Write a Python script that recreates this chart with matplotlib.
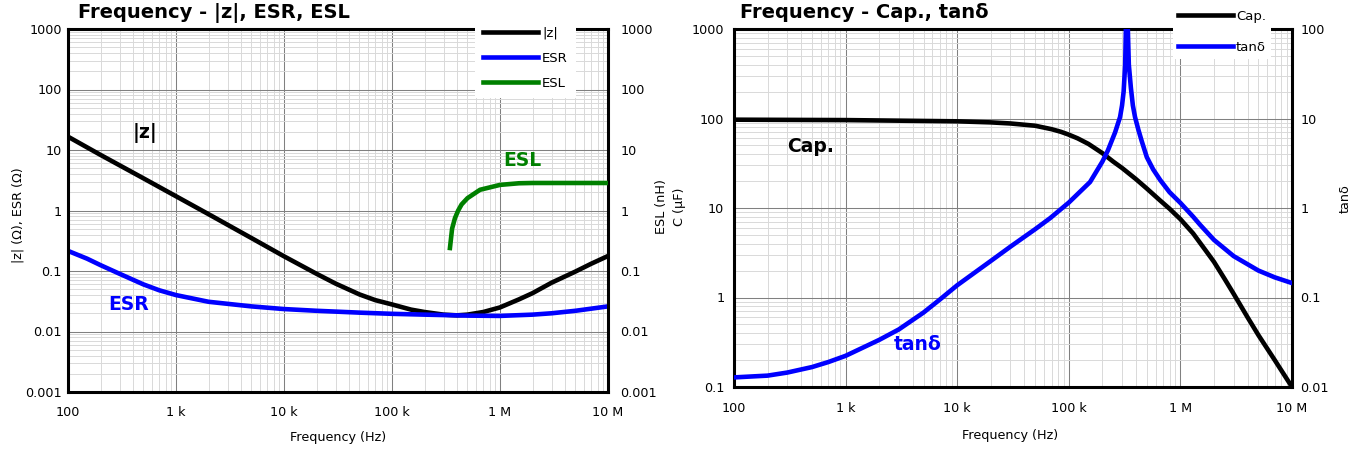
import numpy as np
import matplotlib.pyplot as plt
from matplotlib.ticker import LogLocator, NullFormatter

# canvas size in pixels, used to place the axes and the free texts
W, H = 1359, 453

# ---- left chart data: |z|, ESR, ESL vs frequency
freq_z = [100, 200, 500, 1e3, 2e3, 5e3, 1e4, 2e4, 3e4, 5e4, 7e4, 1e5, 1.5e5, 2e5,
          3e5, 4e5, 5e5, 7e5, 1e6, 1.5e6, 2e6, 3e6, 5e6, 7e6, 1e7]
z_vals = [16.6, 8.3, 3.4, 1.72, 0.87, 0.35, 0.175, 0.09, 0.062, 0.041, 0.033,
          0.028, 0.023, 0.021, 0.019, 0.0185, 0.019, 0.021, 0.025, 0.034, 0.043,
          0.064, 0.098, 0.132, 0.177]

freq_esr = [100, 150, 200, 300, 500, 700, 1e3, 2e3, 5e3, 1e4, 2e4, 5e4, 1e5,
            2e5, 5e5, 1e6, 2e6, 3e6, 5e6, 1e7]
esr_vals = [0.215, 0.16, 0.125, 0.09, 0.06, 0.048, 0.040, 0.031, 0.026, 0.0235,
            0.022, 0.0205, 0.0196, 0.019, 0.0183, 0.0181, 0.019, 0.020, 0.022, 0.026]

freq_esl = [3.44e5, 3.6e5, 3.83e5, 4.1e5, 4.41e5, 5e5, 6.53e5, 1e6, 1.5e6, 2e6,
            5e6, 1e7]
esl_vals = [0.24, 0.5, 0.75, 1.0, 1.26, 1.6, 2.2, 2.65, 2.82, 2.85, 2.85, 2.85]

# ---- right chart data: capacitance and tan delta vs frequency
freq_cap = [100, 1e3, 1e4, 2e4, 3e4, 5e4, 7e4, 8.5e4, 1e5, 1.2e5, 1.5e5, 2e5,
            2.5e5, 3e5, 4e5, 5e5, 6.5e5, 8e5, 1e6, 1.3e6, 1.7e6, 2e6, 2.5e6, 3e6,
            4e6, 5e6, 7e6, 1e7]
cap_vals = [97, 96, 93, 90.5, 88, 83, 76, 71, 66, 60, 52, 41, 33, 28, 21, 16.5,
            12.3, 9.8, 7.5, 5.2, 3.3, 2.5, 1.6, 1.1, 0.6, 0.38, 0.2, 0.1]

freq_tan = [100, 200, 300, 500, 700, 1e3, 2e3, 3e3, 5e3, 7e3, 1e4, 2e4, 3e4, 5e4,
            6.8e4, 1e5, 1.55e5, 2e5, 2.24e5, 2.6e5, 2.88e5, 3e5, 3.1e5, 3.2e5,
            3.3e5, 3.45e5, 3.6e5, 3.75e5, 3.92e5, 4.2e5, 4.5e5, 5e5, 5.7e5, 6.6e5,
            8e5, 1e6, 1.3e6, 1.5e6, 2e6, 3e6, 5e6, 7e6, 1e7]
tan_vals = [0.0128, 0.0134, 0.0145, 0.0167, 0.019, 0.0223, 0.0336, 0.044, 0.068,
            0.095, 0.137, 0.256, 0.37, 0.58, 0.77, 1.15, 1.95, 3.3, 4.4, 7.0, 10.4,
            14, 20, 40, 300, 40, 22, 14, 10.4, 7.5, 5.6, 3.7, 2.7, 2.05, 1.5, 1.14,
            0.8, 0.65, 0.44, 0.29, 0.2, 0.168, 0.145]

x_ticks = [1e2, 1e3, 1e4, 1e5, 1e6, 1e7]
x_labels = ['100', '1 k', '10 k', '100 k', '1 M', '10 M']
z_ticks = [1e-3, 1e-2, 1e-1, 1, 10, 100, 1000]
z_labels = ['0.001', '0.01', '0.1', '1', '10', '100', '1000']
cap_ticks = [0.1, 1, 10, 100, 1000]
cap_labels = ['0.1', '1', '10', '100', '1000']
tan_ticks = [0.01, 0.1, 1, 10, 100]
tan_labels = ['0.01', '0.1', '1', '10', '100']

BLUE = '#0000ff'
GREEN = '#008000'
LW = 3.3
TICK_FS = 9.2


def fx(px):
    return px / W


def fy(py):
    return 1 - py / H


def box(x0, y0, x1, y1):
    return [fx(x0), fy(y1), (x1 - x0) / W, (y1 - y0) / H]


def style_axes(ax, yticks, ylabels, ylim, xpad, ypad):
    ax.set_xscale('log')
    ax.set_yscale('log')
    ax.set_xlim(1e2, 1e7)
    ax.set_ylim(*ylim)
    ax.xaxis.set_minor_locator(LogLocator(base=10, subs=np.arange(2, 10), numticks=20))
    ax.yaxis.set_minor_locator(LogLocator(base=10, subs=np.arange(2, 10), numticks=20))
    ax.xaxis.set_minor_formatter(NullFormatter())
    ax.yaxis.set_minor_formatter(NullFormatter())
    ax.set_xticks(x_ticks, x_labels)
    ax.set_yticks(yticks, ylabels)
    ax.grid(which='minor', color='#d9d9d9', lw=0.7)
    ax.grid(which='major', color='#808080', lw=0.75)
    ax.set_axisbelow(True)
    for s in ax.spines.values():
        s.set_linewidth(2.2)
    ax.tick_params(which='both', length=0, labelsize=TICK_FS)
    ax.tick_params(axis='x', pad=xpad)
    ax.tick_params(axis='y', pad=ypad)


def style_twin(tw, yticks, ylabels, ylim, ypad):
    tw.set_yscale('log')
    tw.set_ylim(*ylim)
    tw.yaxis.set_minor_formatter(NullFormatter())
    tw.set_yticks(yticks, ylabels)
    tw.tick_params(which='both', length=0, labelsize=TICK_FS, pad=ypad)
    for s in tw.spines.values():
        s.set_visible(False)


fig = plt.figure(figsize=(W / 100, H / 100), dpi=100)

# ---------------- left chart
ax1 = fig.add_axes(box(68, 29, 608, 392))
style_axes(ax1, z_ticks, z_labels, (1e-3, 1e3), xpad=10, ypad=4.5)
l_z, = ax1.plot(freq_z, z_vals, color='black', lw=LW, label='|z|')
l_esr, = ax1.plot(freq_esr, esr_vals, color=BLUE, lw=LW, label='ESR')
tw1 = ax1.twinx()
style_twin(tw1, z_ticks, z_labels, (1e-3, 1e3), ypad=9)
l_esl, = tw1.plot(freq_esl, esl_vals, color=GREEN, lw=LW, label='ESL')

fig.text(fx(78), fy(18), 'Frequency - |z|, ESR, ESL', fontsize=14,
         fontweight='bold', va='baseline')
fig.text(fx(18), fy(215), '|z| (Ω), ESR (Ω)', rotation=90, fontsize=9.2,
         ha='center', va='center')
fig.text(fx(338), fy(438), 'Frequency (Hz)', fontsize=9.2, ha='center', va='center')
fig.text(fx(145), fy(133), '|z|', fontsize=13.5, fontweight='bold', ha='center',
         va='center')
fig.text(fx(129), fy(305), 'ESR', fontsize=13.5, fontweight='bold', color=BLUE,
         ha='center', va='center')
fig.text(fx(522), fy(160), 'ESL', fontsize=13.5, fontweight='bold', color=GREEN,
         ha='center', va='center')

fig.legend([l_z, l_esr, l_esl], ['|z|', 'ESR', 'ESL'], loc='upper left',
           bbox_to_anchor=(fx(468), fy(12)), fontsize=9.5, frameon=True,
           facecolor='white', edgecolor='none', framealpha=1, fancybox=False,
           handlelength=4.2, handletextpad=0.3, labelspacing=0.92, borderpad=0.6)

# ---------------- right chart
ax2 = fig.add_axes(box(734, 29, 1292, 387))
style_axes(ax2, cap_ticks, cap_labels, (0.1, 1000), xpad=11, ypad=7)
l_cap, = ax2.plot(freq_cap, cap_vals, color='black', lw=LW, label='Cap.')
tw2 = ax2.twinx()
style_twin(tw2, tan_ticks, tan_labels, (0.01, 100), ypad=6)
l_tan, = tw2.plot(freq_tan, tan_vals, color=BLUE, lw=LW, label='tanδ')

fig.text(fx(740), fy(18), 'Frequency - Cap., tanδ', fontsize=14,
         fontweight='bold', va='baseline')
fig.text(fx(661), fy(207), 'ESL (nH)', rotation=90, fontsize=9.2, ha='center',
         va='center')
fig.text(fx(680), fy(207), 'C (µF)', rotation=90, fontsize=9.2, ha='center',
         va='center')
fig.text(fx(1345), fy(199), 'tanδ', rotation=90, fontsize=9.2, ha='center',
         va='center')
fig.text(fx(1010), fy(436), 'Frequency (Hz)', fontsize=9.2, ha='center', va='center')
fig.text(fx(811), fy(147), 'Cap.', fontsize=13.5, fontweight='bold', ha='center',
         va='center')
fig.text(fx(918), fy(345), 'tanδ', fontsize=13.5, fontweight='bold', color=BLUE,
         ha='center', va='center')

fig.legend([l_cap, l_tan], ['Cap.', 'tanδ'], loc='upper left',
           bbox_to_anchor=(fx(1166), fy(-2)), fontsize=9.5, frameon=True,
           facecolor='white', edgecolor='none', framealpha=1, fancybox=False,
           handlelength=4.2, handletextpad=0.2, labelspacing=1.35, borderpad=0.4)

fig.savefig('out.png', dpi=100)
